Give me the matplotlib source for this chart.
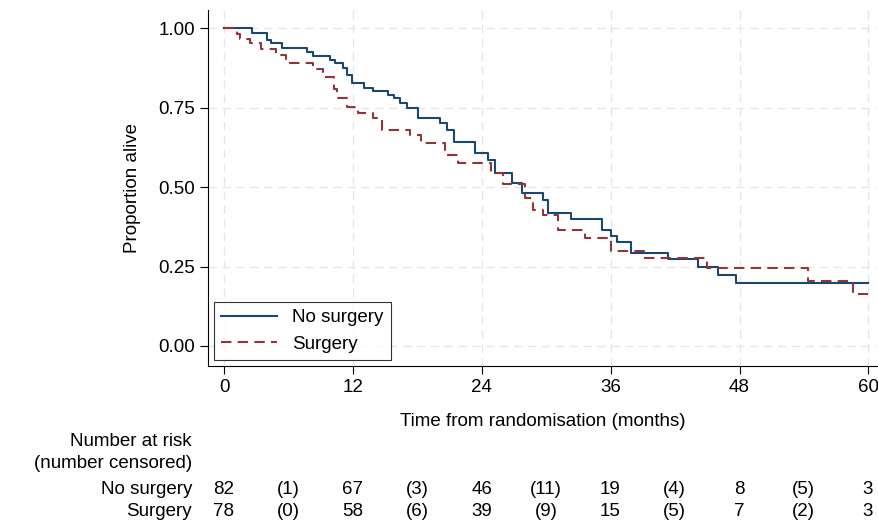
import matplotlib
matplotlib.use("Agg")
import matplotlib.pyplot as plt

plt.rcParams['font.family'] = ['Liberation Sans', 'DejaVu Sans']

ns_t = [0, 2.6, 4.0, 4.4, 5.4, 7.7, 8.3, 9.9, 10.3, 11.1, 11.4, 11.9, 13.0, 13.9, 15.3, 15.8, 16.4, 17.0, 18.1, 20.1, 20.8, 21.4, 23.4, 24.6, 25.2, 26.8, 27.7, 29.7, 30.2, 32.3, 35.2, 36.0, 36.6, 37.9, 41.3, 44.1, 46.0, 47.7, 60]
ns_s = [1.0, 0.986, 0.962, 0.952, 0.938, 0.925, 0.913, 0.90, 0.889, 0.873, 0.852, 0.826, 0.813, 0.803, 0.789, 0.779, 0.764, 0.748, 0.717, 0.70, 0.679, 0.642, 0.606, 0.585, 0.545, 0.513, 0.482, 0.459, 0.417, 0.40, 0.365, 0.346, 0.328, 0.293, 0.273, 0.248, 0.223, 0.199, 0.199]
s_t = [0, 1.2, 1.5, 2.4, 3.4, 4.8, 5.8, 8.3, 9.2, 10.2, 10.5, 11.4, 12.5, 13.9, 14.7, 17.3, 18.3, 20.6, 21.8, 24.9, 26.0, 28.0, 28.8, 29.7, 31.1, 33.6, 36.0, 39.1, 45.0, 54.4, 58.6, 60]
s_s = [1.0, 0.983, 0.965, 0.952, 0.933, 0.915, 0.889, 0.87, 0.847, 0.81, 0.779, 0.753, 0.732, 0.716, 0.681, 0.663, 0.637, 0.60, 0.576, 0.543, 0.511, 0.464, 0.428, 0.412, 0.365, 0.339, 0.299, 0.276, 0.245, 0.203, 0.164, 0.164]

risk_times = [0, 12, 24, 36, 48, 60]
cens_times = [6, 18, 30, 42, 54]
ns_risk = [82, 67, 46, 19, 8, 3]
ns_cens = [1, 3, 11, 4, 5]
s_risk = [78, 58, 39, 15, 7, 3]
s_cens = [0, 6, 9, 5, 2]

W, H = 879, 527
FS = 13.5
fig = plt.figure(figsize=(W/100, H/100), dpi=100)
ax = fig.add_axes([208/W, 1-366/H, (877-208)/W, (366-10)/H])
ax.set_xlim(-1.5, 60.8)
ax.set_ylim(-0.063, 1.057)
blue = '#1a476f'; red = '#90353b'
ax.step(ns_t, ns_s, where='post', color=blue, lw=1.5, label='No surgery')
ax.step(s_t, s_s, where='post', color=red, lw=1.5, ls=(0, (5, 3)), label='Surgery')
ax.set_xticks(risk_times)
ax.set_yticks([0, 0.25, 0.5, 0.75, 1.0])
ax.set_yticklabels(['0.00', '0.25', '0.50', '0.75', '1.00'])
ax.grid(True, color='#e6e6e6', ls=(0, (6, 4)), lw=1)
for sp in ['top', 'right']:
    ax.spines[sp].set_visible(False)
ax.tick_params(labelsize=FS, length=6)
ax.set_xlabel('Time from randomisation (months)', fontsize=FS, labelpad=12)
ax.set_ylabel('Proportion alive', fontsize=FS, labelpad=12)
leg = ax.legend(loc='lower left', fontsize=FS, frameon=True, fancybox=False,
                edgecolor='black', handlelength=3, borderaxespad=0.3)
leg.get_frame().set_linewidth(0.8)

def fx(t):
    return (224 + t*(868-224)/60)/W
def fy(p):
    return 1 - p/H
fig.text(192/W, fy(441), 'Number at risk', ha='right', va='center', fontsize=FS)
fig.text(192/W, fy(463), '(number censored)', ha='right', va='center', fontsize=FS)
for y, name, r, c in [(490, 'No surgery', ns_risk, ns_cens), (512, 'Surgery', s_risk, s_cens)]:
    fig.text(192/W, fy(y), name, ha='right', va='center', fontsize=FS)
    for t, v in zip(risk_times, r):
        fig.text(fx(t), fy(y), str(v), ha='center', va='center', fontsize=FS)
    for t, v in zip(cens_times, c):
        fig.text(fx(t), fy(y), f'({v})', ha='center', va='center', fontsize=FS)

fig.savefig('out.png', dpi=100)
